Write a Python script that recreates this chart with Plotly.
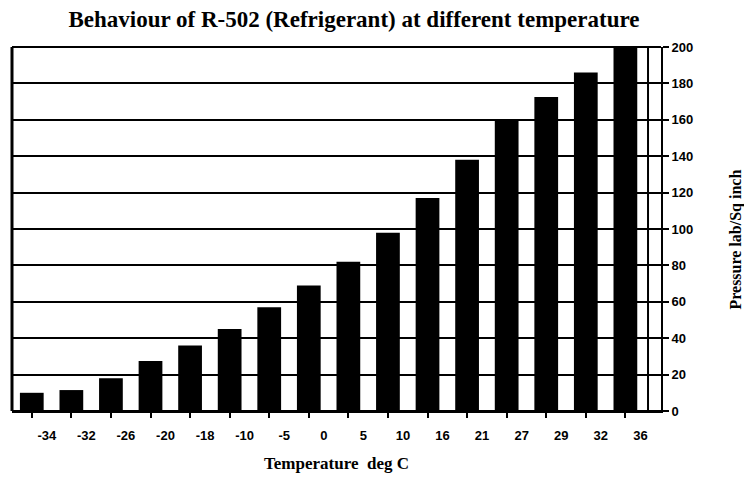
import plotly.graph_objects as go

temperatures = ["-34", "-32", "-26", "-20", "-18", "-10", "-5", "0",
                "5", "10", "16", "21", "27", "29", "32", "36"]
pressure = [10, 11.5, 18, 27.5, 36, 45, 57, 69,
            82, 98, 117, 138, 160, 172.5, 186, 200]
y_ticks = [0, 20, 40, 60, 80, 100, 120, 140, 160, 180, 200]

fig = go.Figure()
fig.add_trace(go.Bar(
    x=temperatures, y=pressure,
    marker=dict(color="black", line=dict(width=0)),
    showlegend=False,
))

bold_sans = dict(family="Liberation Sans, Arial, sans-serif", size=13, color="black", weight="bold")
serif = "Liberation Serif, Times New Roman, serif"

fig.update_layout(
    width=744, height=471,
    margin=dict(l=4, r=91, t=39, b=68),
    paper_bgcolor="white", plot_bgcolor="white",
    bargap=0.4,
    title=dict(
        text="<b>Behaviour of R-502 (Refrigerant) at different temperature</b>",
        font=dict(family=serif, size=23, color="black"),
        x=0.465, xanchor="center", y=0.993, yanchor="top",
    ),
    xaxis=dict(
        type="category", range=[-0.5, 15.9],
        showgrid=False, showline=True, linecolor="black", linewidth=2,
        ticks="outside", ticklen=5, tickwidth=2, tickcolor="black",
        tickfont=bold_sans, ticklabelshift=15, ticklabelstandoff=6,
        title=dict(text="<b>Temperature  deg C</b>",
                   font=dict(family=serif, size=17, color="black"),
                   standoff=16),
    ),
    yaxis=dict(
        side="right", range=[0, 200], tickvals=y_ticks,
        showgrid=True, gridcolor="black", gridwidth=2,
        showline=True, linecolor="black", linewidth=2,
        ticks="outside", ticklen=6, tickwidth=2, tickcolor="black",
        tickfont=bold_sans, zeroline=True, zerolinecolor="black", zerolinewidth=2,
    ),
    annotations=[dict(
        text="<b>Pressure lab/Sq inch</b>", textangle=-90,
        xref="paper", yref="paper", x=1.115, y=0.47,
        xanchor="center", yanchor="middle", showarrow=False,
        font=dict(family=serif, size=16, color="black"),
    )],
    shapes=[
        dict(type="line", xref="paper", yref="paper", x0=0, x1=0, y0=0, y1=1,
             line=dict(color="black", width=3)),
        dict(type="line", xref="paper", yref="paper", x0=0.98, x1=0.98, y0=0, y1=1,
             line=dict(color="black", width=2)),
        dict(type="line", xref="paper", yref="paper", x0=0, x1=1, y0=1, y1=1,
             line=dict(color="black", width=2)),
    ],
)

fig.write_html("out.html")
